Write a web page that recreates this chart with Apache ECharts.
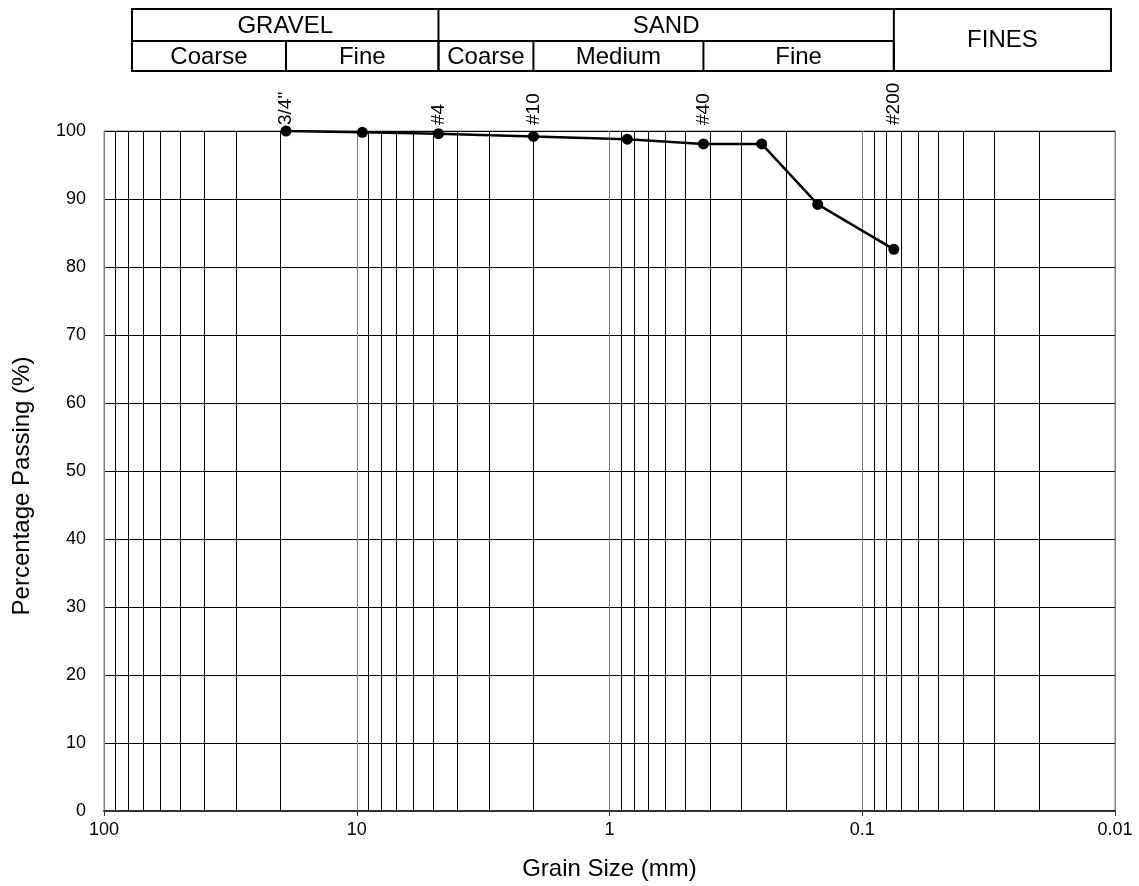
<!DOCTYPE html>
<html>
<head>
<meta charset="utf-8">
<title>Grain Size Distribution</title>
<script src="https://cdn.jsdelivr.net/npm/echarts@6/dist/echarts.min.js"></script>
<style>
  html, body { margin: 0; padding: 0; background: #fff; }
  #chart { width: 1139px; height: 886px; }
</style>
</head>
<body>
<div id="chart"></div>
<script>
// sieve analysis result
const grainSize = [19.05, 9.5, 4.75, 2.0, 0.85, 0.425, 0.25, 0.15, 0.075] // mm
const passing = [100, 99.8, 99.6, 99.2, 98.8, 98.1, 98.1, 89.2, 82.6] // %

// sieve names written above the plot
const sieveSizes = [19.05, 4.75, 2.0, 0.425, 0.075]
const sieveNames = ['3/4"', '#4', '#10', '#40', '#200']

// log grid: minor lines 2..9 in every decade
const decades = [0.01, 0.1, 1, 10]
const minorSteps = [2, 3, 4, 5, 6, 7, 8, 9]

// classification header (USCS)
const mainNames = ['GRAVEL', 'SAND', 'FINES']
const mainLimits = [4.75, 0.075]
const subNames = ['Coarse', 'Fine', 'Coarse', 'Medium', 'Fine']
const subLimits = [19.05, 4.75, 2.0, 0.425, 0.075]

const FONT = 'Liberation Sans, Arial, Helvetica, sans-serif'

let minorLines = []
decades.forEach(d => {
  minorSteps.forEach(m => {
    minorLines.push(+(d * m).toPrecision(3))
  })
})

let lineData = grainSize.map((g, i) => [g, passing[i]])
let sieveData = sieveSizes.map((s, i) => [s, 100, sieveNames[i]])

const chart = echarts.init(document.getElementById('chart'), null, { renderer: 'canvas' })

chart.setOption({
  animation: false,
  backgroundColor: '#fff',
  textStyle: { fontFamily: FONT },
  grid: {
    left: 104,
    right: 24,
    top: 131,
    bottom: 72,
    show: true,
    borderColor: '#808080',
    borderWidth: 1
  },
  xAxis: {
    type: 'log',
    logBase: 10,
    min: 0.01,
    max: 100,
    inverse: true,
    name: 'Grain Size (mm)',
    nameLocation: 'middle',
    nameGap: 46,
    nameTextStyle: { fontSize: 24, color: '#000', fontFamily: FONT },
    axisLine: { show: true, lineStyle: { color: '#333', width: 2 } },
    axisTick: { show: true, length: 5, lineStyle: { color: '#333' } },
    axisLabel: {
      fontSize: 18,
      color: '#000',
      margin: 10,
      formatter: function(v) {
        return String(+v.toPrecision(3))
      }
    },
    splitLine: { show: true, lineStyle: { color: '#808080', width: 1 } }
  },
  yAxis: {
    type: 'value',
    min: 0,
    max: 100,
    interval: 10,
    name: 'Percentage Passing (%)',
    nameLocation: 'middle',
    nameGap: 70,
    nameTextStyle: { fontSize: 24, color: '#000', fontFamily: FONT, padding: [0, 30, 0, 0] },
    axisLine: { show: true, lineStyle: { color: '#808080' } },
    axisTick: { show: false },
    axisLabel: { fontSize: 18, color: '#000', margin: 18 },
    splitLine: { show: true, lineStyle: { color: '#000', width: 1 } }
  },
  series: [
    {
      // sieve names + minor grid
      type: 'scatter',
      z: 1,
      silent: true,
      symbolSize: 0,
      itemStyle: { opacity: 1 },
      data: sieveData,
      label: {
        show: true,
        position: 'top',
        distance: 6,
        rotate: 90,
        align: 'left',
        verticalAlign: 'middle',
        fontSize: 19,
        color: '#000',
        opacity: 1,
        fontFamily: FONT,
        formatter: function(p) {
          return p.data[2]
        }
      },
      markLine: {
        silent: true,
        symbol: 'none',
        label: { show: false },
        lineStyle: { color: '#000', width: 1, type: 'solid' },
        data: minorLines.map(v => ({ xAxis: v }))
      }
    },
    {
      type: 'line',
      z: 3,
      silent: true,
      data: lineData,
      symbol: 'circle',
      symbolSize: 11,
      itemStyle: { color: '#000' },
      lineStyle: { color: '#000', width: 2.5 }
    }
  ]
})

// header table, dividers placed on the x scale
const px = v => chart.convertToPixel({ xAxisIndex: 0 }, v)
const tLeft = 132
const tRight = 1111
const tTop = 9
const tMid = 41
const tBot = 71
const lineSt = { stroke: '#000', lineWidth: 2 }
let g = []

g.push({ type: 'rect', shape: { x: tLeft, y: tTop, width: tRight - tLeft, height: tBot - tTop }, style: { fill: null, stroke: '#000', lineWidth: 2 } })
g.push({ type: 'line', shape: { x1: tLeft, y1: tMid, x2: px(mainLimits[1]), y2: tMid }, style: lineSt })
mainLimits.forEach(v => {
  g.push({ type: 'line', shape: { x1: px(v), y1: tTop, x2: px(v), y2: tBot }, style: lineSt })
})
subLimits.forEach(v => {
  g.push({ type: 'line', shape: { x1: px(v), y1: tMid, x2: px(v), y2: tBot }, style: lineSt })
})

let mainEdges = [tLeft].concat(mainLimits.map(px)).concat([tRight])
mainNames.forEach((n, i) => {
  let last = i === mainNames.length - 1
  g.push({
    type: 'text',
    x: (mainEdges[i] + mainEdges[i + 1]) / 2,
    y: last ? (tTop + tBot) / 2 : (tTop + tMid) / 2 + 1,
    style: { text: n, fontSize: 24, fontFamily: FONT, fill: '#000', align: 'center', verticalAlign: 'middle' }
  })
})
let subEdges = [tLeft].concat(subLimits.map(px))
subNames.forEach((n, i) => {
  g.push({
    type: 'text',
    x: (subEdges[i] + subEdges[i + 1]) / 2,
    y: (tMid + tBot) / 2 + 1,
    style: { text: n, fontSize: 24, fontFamily: FONT, fill: '#000', align: 'center', verticalAlign: 'middle' }
  })
})

chart.setOption({ graphic: g })
</script>
</body>
</html>
